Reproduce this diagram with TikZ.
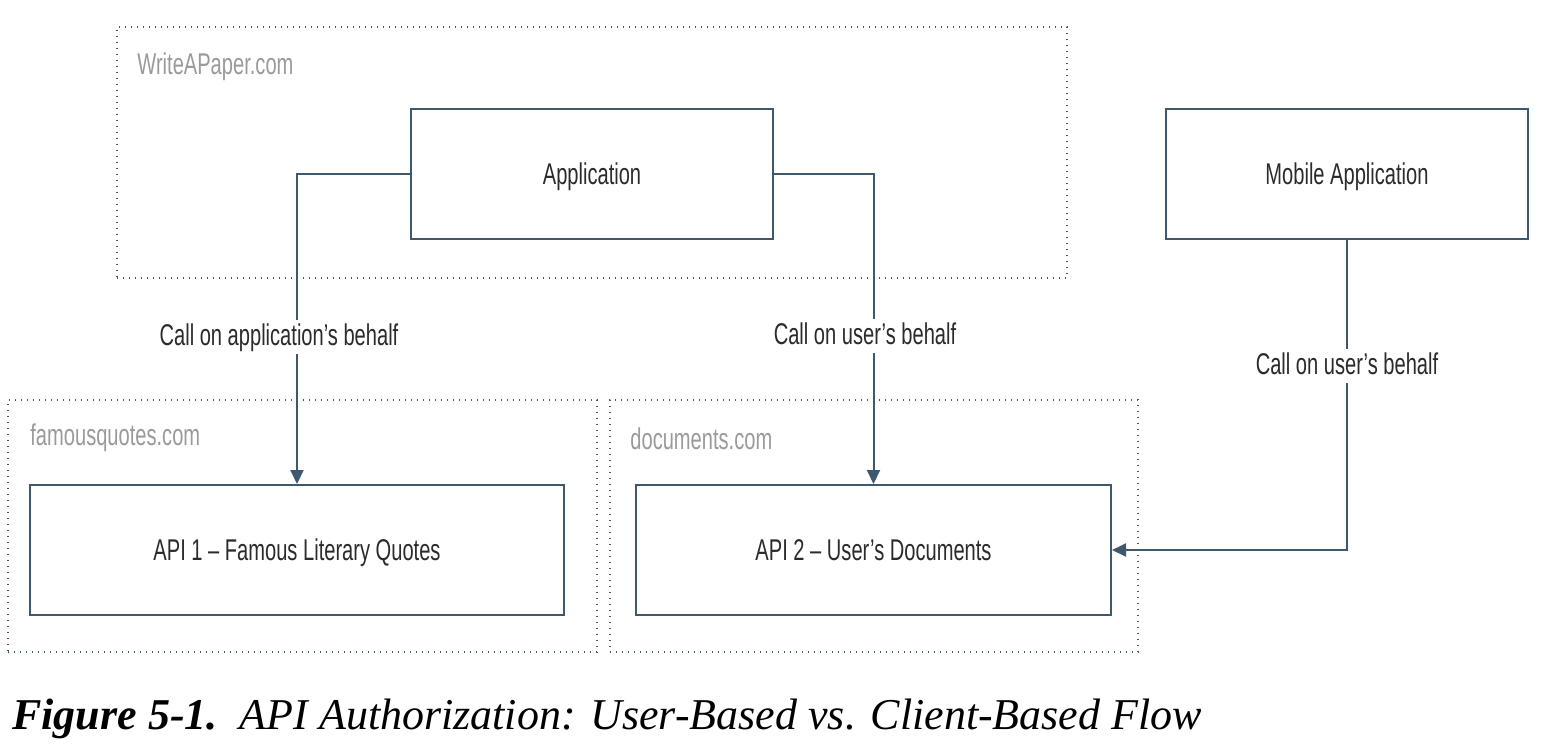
\documentclass[tikz,border=0pt]{standalone}
\usepackage{fontspec}
\setmainfont{Liberation Sans}[FakeStretch=0.67]
\newfontfamily\capfont{Liberation Serif}[FakeStretch=1.0]
\usepackage{xcolor}
\usetikzlibrary{arrows.meta}

\definecolor{slate}{HTML}{3E586D}
\definecolor{inktext}{HTML}{2B2B2B}
\definecolor{sitegray}{HTML}{9A9A9C}

\begin{document}
\begin{tikzpicture}[x=0.5pt,y=-0.5pt,
    box/.style={draw=slate,line width=1pt,rectangle,minimum width=#1,minimum height=65pt,text=inktext,font=\fontsize{15}{18}\selectfont,inner sep=0pt,text height=10.7pt,text depth=0pt},
    sitebox/.style={draw=slate,line width=0.8pt,dash pattern=on 0.7pt off 2.3pt,rectangle,inner sep=0pt},
    sitelabel/.style={anchor=west,text=sitegray,font=\fontsize{15}{18}\selectfont,inner sep=0pt},
    calllabel/.style={fill=white,text=inktext,font=\fontsize{15}{18}\selectfont,inner sep=2pt,text height=10.7pt,text depth=2pt},
    arr/.style={draw=slate,line width=1pt,-{Triangle[length=7pt,width=6.5pt]}}]

        \useasboundingbox (0,0) rectangle (1556,754);

        % dotted sites
        \node[sitebox,minimum width=475pt,minimum height=125.5pt] (writeapaper) at (592,152.5) {};
        \node[sitebox,minimum width=294.5pt,minimum height=126pt] (famousquotes) at (302.5,526) {};
        \node[sitebox,minimum width=264pt,minimum height=126pt] (documents) at (874,526) {};

        \node[sitelabel] (writeapaperlabel) at (137,67) {WriteAPaper.com};
        \node[sitelabel] (famousquoteslabel) at (30,438) {famousquotes.com};
        \node[sitelabel] (documentslabel) at (630,439) {documents.com};

        % boxes
        \node[box=181pt] (app) at (592,174) {Application};
        \node[box=181pt] (mobile) at (1347,174) {Mobile Application};
        \node[box=267pt] (api1) at (297,550) {API 1 -- Famous Literary Quotes};
        \node[box=237.5pt] (api2) at (873.5,550) {API 2 -- User's Documents};

        % calls
        \draw[arr] (app.west) -| (api1.north);
        \draw[arr] (app.east) -| (api2.north);
        \draw[arr] (mobile.south) |- (api2.east);

        \node[calllabel] (applabel) at (279,337) {Call on application's behalf};
        \node[calllabel] (userlabel) at (865,336) {Call on user's behalf};
        \node[calllabel] (mobilelabel) at (1347,366) {Call on user's behalf};

        % caption
        \node[anchor=base west,inner sep=0pt,text=black,font=\capfont\fontsize{22}{25}\selectfont] (caption) at (12,729)
            {\textbf{\textit{Figure 5-1.}}\hspace{0.5em}\textit{API Authorization: User-Based vs. Client-Based Flow}};
    \end{tikzpicture}
\end{document}
